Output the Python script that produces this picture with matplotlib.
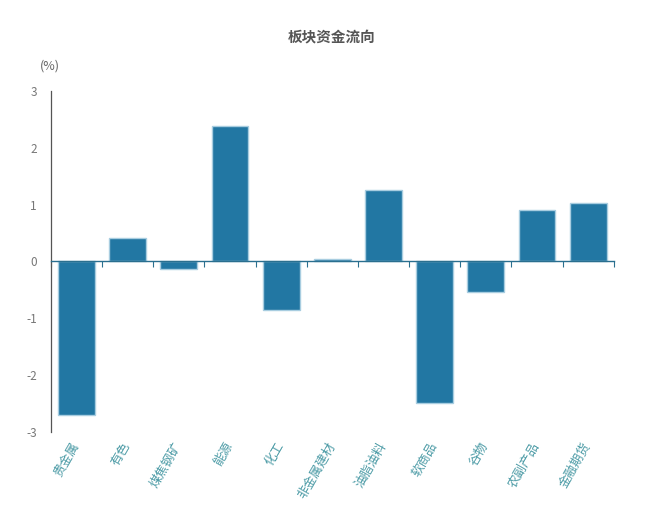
import matplotlib
matplotlib.use("Agg")
import matplotlib.pyplot as plt
import matplotlib.transforms as mtransforms
import numpy as np

plt.rcParams['font.family'] = ['Noto Sans CJK SC', 'DejaVu Sans']

categories = ["贵金属", "有色", "煤焦钢矿", "能源", "化工", "非金属建材",
              "油脂油料", "软商品", "谷物", "农副产品", "金融期货"]
values = [-2.70, 0.42, -0.14, 2.39, -0.86, 0.04, 1.25, -2.49, -0.54, 0.91, 1.03]
yticks = [-3, -2, -1, 0, 1, 2, 3]

fig = plt.figure(figsize=(6.7, 5.11), dpi=100)
ax = fig.add_axes([0.076, 0.155, 0.840, 0.667])

x = np.arange(len(categories))
ax.bar(x, values, width=0.72, color='#2277a3', edgecolor='#a8cde0', linewidth=1.0, zorder=2)

ax.set_xlim(-0.5, len(categories) - 0.5)
ax.set_ylim(-3, 3)
ax.set_yticks(yticks)
ax.set_yticklabels([str(v) for v in yticks], color='#777777', fontsize=8.5)
ax.tick_params(axis='y', length=0, pad=10)

for s in ['top', 'right']:
    ax.spines[s].set_visible(False)
ax.spines['left'].set_color('#555555')
ax.spines['left'].set_linewidth(0.9)
ax.spines['bottom'].set_position(('data', 0))
ax.spines['bottom'].set_color('#2a6f8f')
ax.spines['bottom'].set_linewidth(1.0)

ax.set_xticks(np.arange(-0.5, len(categories), 1.0))
ax.set_xticklabels([])
ax.tick_params(axis='x', length=4, direction='out', color='#2a6f8f')

trans = mtransforms.blended_transform_factory(ax.transData, ax.transAxes)
offset = mtransforms.ScaledTranslation(-6 / 100, 0, fig.dpi_scale_trans)
for i, c in enumerate(categories):
    ax.text(i, -0.025, c, transform=trans + offset, rotation=60, ha='right', va='top',
            rotation_mode='anchor', fontsize=9, color='#4a9aa5')

fig.text(0.495, 0.928, "板块资金流向", ha='center', va='center', fontsize=10.5,
         fontweight='bold', color='#555555')
fig.text(0.074, 0.871, "(%)", ha='center', va='center', fontsize=9, color='#666666')

fig.savefig("out.png", dpi=100, facecolor='white')
